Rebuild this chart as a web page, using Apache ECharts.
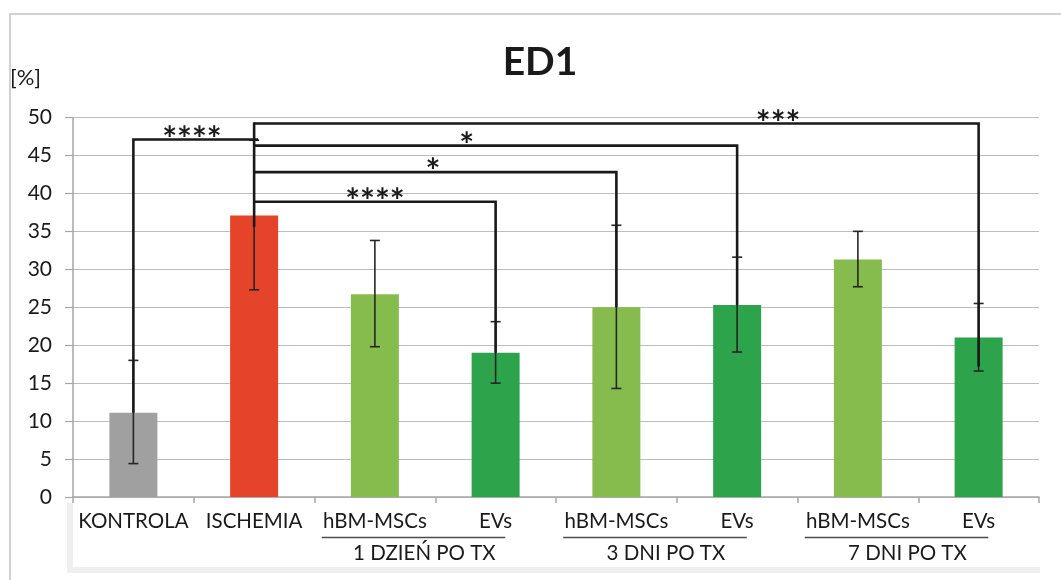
<!DOCTYPE html>
<html>
<head>
<meta charset="utf-8">
<script src="https://cdn.jsdelivr.net/npm/echarts@6/dist/echarts.min.js"></script>
<style>
html,body{margin:0;padding:0;background:#fff;}
#main{width:1061px;height:580px;}
</style>
</head>
<body>
<div id="main"></div>
<script>
// ---- data ----
const categories = ['KONTROLA', 'ISCHEMIA', 'hBM-MSCs', 'EVs', 'hBM-MSCs', 'EVs', 'hBM-MSCs', 'EVs'];
const values = [11.1, 37.1, 26.7, 19.0, 25.0, 25.3, 31.3, 21.0];
const errLow = [4.4, 27.3, 19.8, 15.0, 14.3, 19.1, 27.7, 16.6];
const errHigh = [18.0, 47.0, 33.8, 23.1, 35.8, 31.6, 35.0, 25.5];
const barColors = ['#a0a0a0', '#e5432a', '#86bc4e', '#2da44c', '#86bc4e', '#2da44c', '#86bc4e', '#2da44c'];
const groupLabels = ['1 DZIEŃ PO TX', '3 DNI PO TX', '7 DNI PO TX'];
const groupFirst = [2, 4, 6];
const groupLast = [3, 5, 7];
const yTicks = [0, 5, 10, 15, 20, 25, 30, 35, 40, 45, 50];
// significance brackets
const bracketFrom = [0, 1, 1, 1, 1];
const bracketTo = [1, 3, 4, 5, 7];
const bracketLevel = [47.1, 38.9, 42.8, 46.3, 49.2];
const bracketLegEnd = [11.1, 19.0, 25.0, 25.3, 17.2];
const bracketStars = ['****', '****', '*', '*', '***'];
const trunkTop = 49.2;
const trunkBottom = 35.6;

// ---- layout constants ----
const starAt = [0.485, 2.0, 2.48, 2.76, 5.34]; // category-fraction position of star labels
const FONT = 'Lato, "Open Sans", sans-serif';

const chart = echarts.init(document.getElementById('main'));

const barData = values.map((v, i) => ({ value: v, itemStyle: { color: barColors[i] } }));
const errData = values.map((v, i) => [i, errLow[i], errHigh[i]]);
const bracketData = bracketFrom.map((f, i) => [f, bracketTo[i], bracketLevel[i], bracketLegEnd[i], i]);

function xAt(api, frac) {
  const i = Math.floor(frac);
  const base = api.coord([i, 0])[0];
  const band = api.size([1, 0])[0];
  return base + (frac - i) * band;
}

const option = {
  backgroundColor: '#ffffff',
  animation: false,
  grid: { left: 73, right: 22, top: 117.5, bottom: 83, containLabel: false },
  xAxis: {
    type: 'category',
    data: categories,
    axisLine: { lineStyle: { color: '#a6a6a6', width: 1.5 } },
    axisTick: { show: true, length: 6, lineStyle: { color: '#a6a6a6', width: 1.5 } },
    axisLabel: { color: '#1a1a1a', fontSize: 20.5, fontFamily: FONT, margin: 14, interval: 0 },
    splitLine: { show: false }
  },
  yAxis: {
    type: 'value',
    min: 0, max: 50, interval: 5,
    axisLine: { show: true, lineStyle: { color: '#a6a6a6', width: 1.5 } },
    axisTick: { show: true, length: 8, lineStyle: { color: '#a6a6a6', width: 1.2 } },
    axisLabel: { color: '#1a1a1a', fontSize: 21, fontFamily: FONT, margin: 21,
      formatter: v => yTicks.indexOf(v) >= 0 ? String(v) : '' },
    splitLine: { lineStyle: { color: '#bdbdbd', width: 1.2 } }
  },
  series: [
    {
      type: 'bar',
      data: barData,
      barWidth: 48,
      z: 2
    },
    {
      type: 'custom',
      z: 3,
      data: errData,
      renderItem: function (params, api) {
        const i = api.value(0);
        const lo = api.coord([i, api.value(1)]);
        const hi = api.coord([i, api.value(2)]);
        const w = 5;
        const st = { stroke: '#262626', lineWidth: 1.6 };
        return {
          type: 'group',
          children: [
            { type: 'line', shape: { x1: lo[0], y1: lo[1], x2: hi[0], y2: hi[1] }, style: st },
            { type: 'line', shape: { x1: lo[0] - w, y1: lo[1], x2: lo[0] + w, y2: lo[1] }, style: st },
            { type: 'line', shape: { x1: hi[0] - w, y1: hi[1], x2: hi[0] + w, y2: hi[1] }, style: st }
          ]
        };
      }
    },
    {
      type: 'custom',
      z: 4,
      clip: false,
      data: bracketData,
      renderItem: function (params, api) {
        const f = api.value(0), t = api.value(1), lvl = api.value(2), legEnd = api.value(3), k = api.value(4);
        const st = { stroke: '#1a1a1a', lineWidth: 2.6 };
        const yL = api.coord([0, lvl])[1];
        const children = [];
        if (f === 0) {
          const x0 = api.coord([f, 0])[0];
          const x1 = api.coord([t, 0])[0] + 4;
          const yE = api.coord([0, legEnd])[1];
          children.push({ type: 'polyline', shape: { points: [[x0, yE], [x0, yL], [x1, yL]] }, style: Object.assign({ fill: null }, st) });
        } else {
          const x0 = api.coord([f, 0])[0];
          const x1 = api.coord([t, 0])[0];
          const yE = api.coord([0, legEnd])[1];
          children.push({ type: 'polyline', shape: { points: [[x0, yL], [x1, yL], [x1, yE]] }, style: Object.assign({ fill: null }, st) });
        }
        if (params.dataIndex === 0) {
          const xt = api.coord([1, 0])[0];
          children.push({ type: 'line', shape: { x1: xt, y1: api.coord([0, trunkTop])[1] - 1.3, x2: xt, y2: api.coord([0, trunkBottom])[1] }, style: st });
        }
        children.push({
          type: 'text',
          style: {
            x: xAt(api, starAt[k]), y: yL,
            text: bracketStars[k],
            fill: '#1a1a1a',
            font: 'bold 35px ' + FONT,
            align: 'center', verticalAlign: 'middle'
          }
        });
        return { type: 'group', children: children };
      }
    }
  ]
};

chart.setOption(option);

const band = chart.convertToPixel({ xAxisIndex: 0 }, 1) - chart.convertToPixel({ xAxisIndex: 0 }, 0);
const graphics = [
  { type: 'rect', z: -10, shape: { x: 10, y: 14, width: 1080, height: 600 }, style: { fill: '#ffffff', stroke: '#c4c4c4', lineWidth: 1.5 } },
  { type: 'rect', z: -9, shape: { x: 67, y: 503, width: 973, height: 70 }, style: { fill: '#efefef' } },
  { type: 'rect', z: -8, shape: { x: 73, y: 503, width: 967, height: 64 }, style: { fill: '#ffffff' } },
  { type: 'text', style: { x: 540, y: 62, text: 'ED1', font: 'bold 39px ' + FONT, fill: '#1a1a1a', align: 'center', verticalAlign: 'middle' } },
  { type: 'text', style: { x: 10, y: 78, text: '[%]', font: '22px ' + FONT, fill: '#1a1a1a', align: 'left', verticalAlign: 'middle' } }
];
groupLabels.forEach((g, i) => {
  const xa = chart.convertToPixel({ xAxisIndex: 0 }, groupFirst[i]);
  const xb = chart.convertToPixel({ xAxisIndex: 0 }, groupLast[i]);
  graphics.push({ type: 'line', shape: { x1: xa - 0.44 * band, y1: 537.5, x2: xb + 0.08 * band, y2: 537.5 }, style: { stroke: '#4d4d4d', lineWidth: 1.5 } });
  graphics.push({ type: 'text', style: { x: (xa + xb) / 2 - 0.09 * band, y: 553, text: g, font: '20.5px ' + FONT, fill: '#1a1a1a', align: 'center', verticalAlign: 'middle' } });
});
chart.setOption({ graphic: graphics });
</script>
</body>
</html>
